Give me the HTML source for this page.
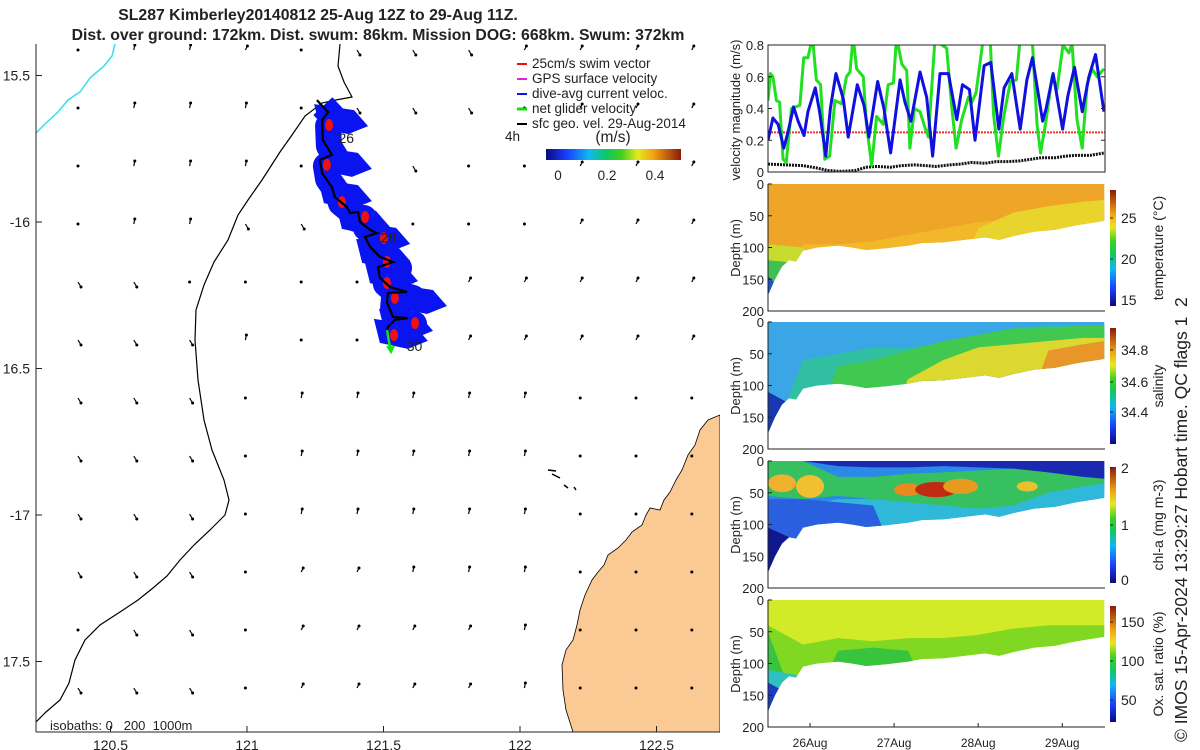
<!DOCTYPE html>
<html><head><meta charset="utf-8"><style>
html,body{margin:0;padding:0;background:#fff;}
svg{display:block;font-family:"Liberation Sans",sans-serif;}
text{fill:#222;}
</style></head><body>
<svg id="s" width="1200" height="750" viewBox="0 0 1200 750" xmlns="http://www.w3.org/2000/svg">
<defs>
<linearGradient id="jetH" x1="0" y1="0" x2="1" y2="0">
<stop offset="0" stop-color="#0a0a80"/><stop offset="0.15" stop-color="#1a3cff"/><stop offset="0.32" stop-color="#10b8f0"/><stop offset="0.45" stop-color="#10c860"/><stop offset="0.56" stop-color="#40d020"/><stop offset="0.68" stop-color="#e8e820"/><stop offset="0.8" stop-color="#f0a010"/><stop offset="1" stop-color="#8b1a0a"/>
</linearGradient>
<linearGradient id="jetV" x1="0" y1="1" x2="0" y2="0">
<stop offset="0" stop-color="#0a0a80"/><stop offset="0.15" stop-color="#1a3cff"/><stop offset="0.32" stop-color="#10b8f0"/><stop offset="0.45" stop-color="#10c860"/><stop offset="0.56" stop-color="#40d020"/><stop offset="0.68" stop-color="#e8e820"/><stop offset="0.8" stop-color="#f0a010"/><stop offset="1" stop-color="#8b1a0a"/>
</linearGradient>
<clipPath id="velClip"><rect x="768" y="45" width="337" height="127"/></clipPath>
<clipPath id="mapClip"><rect x="36" y="44" width="684" height="688"/></clipPath>
</defs>
<g id="map"></g>
<g id="right"></g>
</svg>
<script>
// ===== DATA =====
const velHours = [0,1.4,2.9,4.5,5.7,7.3,8.6,10.3,11.4,13.5,14.8,16.5,17.8,19.4,21.5,22.9,25.5,27.4,28.8,31.3,33.1,35.0,37.7,39.1,40.8,43.4,45.3,47.0,49.1,51.5,53.9,55.5,57.5,59.1,61.7,63.6,65.9,67.4,69.6,72.0,73.9,75.5,78.4,79.4,81.4,84.1,85.6,87.5,89.7,91.6,93.5,95.9];
const diveAvgVel = [0.2,0.34,0.3,0.15,0.25,0.41,0.32,0.23,0.38,0.53,0.37,0.1,0.4,0.62,0.46,0.22,0.55,0.42,0.22,0.57,0.4,0.12,0.58,0.44,0.32,0.63,0.47,0.1,0.62,0.62,0.33,0.55,0.52,0.2,0.67,0.69,0.27,0.53,0.62,0.27,0.58,0.72,0.32,0.4,0.62,0.27,0.48,0.66,0.38,0.6,0.74,0.38];
const netHours = [0,0.7,1.4,2.4,3.3,4.3,5.2,6.7,9.1,10.2,11.4,12.7,13.8,15.0,16.2,17.6,19.1,21.0,22.4,23.4,24.3,25.3,27.2,28.1,29.6,31.0,32.9,34.3,35.8,36.7,38.2,39.6,40.5,41.8,43.4,44.8,45.8,47.7,49.6,51.0,52.5,53.7,55.3,57.2,58.2,59.4,61.5,63.4,64.4,65.8,67.3,69.2,70.9,72.0,73.5,75.4,76.8,77.8,79.2,81.1,82.5,84.2,85.9,86.8,88.2,89.7,91.1,92.5,94.0,95.9];
const netGliderVel = [0.45,0.62,0.6,0.45,0.44,0.08,0.06,0.4,0.42,0.72,0.72,0.85,0.58,0.55,0.08,0.1,0.45,0.43,0.6,0.63,0.85,0.65,0.6,0.3,0.04,0.35,0.3,0.55,0.56,0.85,0.68,0.64,0.15,0.4,0.38,0.28,0.22,0.85,0.8,0.78,0.4,0.15,0.33,0.47,0.44,0.5,0.85,0.85,0.36,0.1,0.35,0.57,0.58,0.85,0.85,0.85,0.3,0.12,0.3,0.6,0.52,0.8,0.75,0.81,0.33,0.15,0.55,0.65,0.6,0.65];
const sfcHours = [0,5,10,14,17,20,22,25,28,31,35,38,42,45,48,52,55,58,62,65,68,72,75,78,82,85,88,92,96];
const sfcGeoVel = [0.05,0.045,0.04,0.025,0.01,0.005,0.005,0.01,0.03,0.035,0.03,0.04,0.045,0.04,0.035,0.045,0.05,0.06,0.055,0.065,0.065,0.07,0.08,0.09,0.09,0.1,0.105,0.105,0.12];
const swimSpeed = 0.25;
const velTicks = [0,0.2,0.4,0.6,0.8];
const dayTicks = ["26Aug","27Aug","28Aug","29Aug"];
const dayTickHours = [12,36,60,84];
const depthTicks = [0,50,100,150,200];
// section profiles
const profHours = [0,2,4,6,8,10,14,20,24,28,34,40,44,50,56,62,66,70,76,82,88,96];
const maxDepth = [175,150,130,120,122,105,100,97,100,104,101,97,93,92,88,84,88,82,75,72,65,58];
const layerHours = [0,10,20,30,40,50,60,70,80,90,96];
const tempLayers = [
 {c:"#eea528", top:[0,0,0,0,0,0,0,0,0,0,0], bot:[200,200,200,200,200,200,200,200,200,200,200]},
 {c:"#f2b82a", top:[200,95,95,90,80,70,60,55,50,45,45], bot:[200,200,200,200,200,200,200,200,200,200,200]},
 {c:"#e8d42c", top:[200,200,200,200,200,200,70,45,35,28,25], bot:[200,200,200,200,200,200,200,200,200,200,200]},
 {c:"#c8dc30", top:[95,100,200,200,200,200,200,200,200,200,200], bot:[200,200,200,200,200,200,200,200,200,200,200]},
 {c:"#40c050", top:[120,125,200,200,200,200,200,200,200,200,200], bot:[200,200,200,200,200,200,200,200,200,200,200]},
 {c:"#1e50d0", top:[145,200,200,200,200,200,200,200,200,200,200], bot:[200,200,200,200,200,200,200,200,200,200,200]}
];
const salLayers = [
 {c:"#3aa6e6", top:[0,0,0,0,0,0,0,0,0,0,0], bot:[200,200,200,200,200,200,200,200,200,200,200]},
 {c:"#30bfa0", top:[200,60,50,40,40,35,25,10,5,5,5], bot:[200,200,200,200,200,200,200,200,200,200,200]},
 {c:"#40c850", top:[200,200,70,60,45,30,20,10,10,5,5], bot:[200,200,200,200,200,200,200,200,200,200,200]},
 {c:"#dcd830", top:[200,200,200,200,90,60,40,35,30,25,25], bot:[200,200,200,200,200,200,200,200,200,200,200]},
 {c:"#e8962a", top:[200,200,200,200,200,200,200,200,45,35,30], bot:[200,200,200,200,200,200,200,200,200,200,200]},
 {c:"#1838b0", top:[110,140,200,200,200,200,200,200,200,200,200], bot:[200,200,200,200,200,200,200,200,200,200,200]}
];
const chlLayers = [
 {c:"#2a8ae6", top:[0,0,0,0,0,0,0,0,0,0,0], bot:[200,200,200,200,200,200,200,200,200,200,200]},
 {c:"#30b8d8", top:[60,70,60,60,55,60,60,55,45,35,35], bot:[200,200,200,200,200,200,200,200,200,200,200]},
 {c:"#2a60e0", top:[60,60,65,70,200,200,200,200,200,200,200], bot:[200,200,200,200,200,200,200,200,200,200,200]},
 {c:"#36c060", top:[0,0,25,25,20,18,15,12,12,15,18], bot:[55,60,55,60,65,70,75,70,50,40,35]},
 {c:"#1a2ab0", top:[0,0,0,0,0,0,0,0,0,0,0], bot:[0,0,8,10,10,8,10,12,18,25,28]},
 {c:"#101890", top:[105,130,200,200,200,200,200,200,200,200,200], bot:[200,200,200,200,200,200,200,200,200,200,200]}
];
// chl-a high patches: centre hour, centre depth, half-width hours, half-height m
const chlPatchHour = [4,12,40,48,55,74];
const chlPatchDepth = [35,40,45,45,40,40];
const chlPatchRx = [4,4,4,6,5,3];
const chlPatchRy = [14,18,10,12,12,8];
const chlPatchColor = ["#f0b030","#f0c030","#e88a20","#c02a10","#e89a20","#e8c030"];
const oxyLayers = [
 {c:"#d2ea28", top:[0,0,0,0,0,0,0,0,0,0,0], bot:[200,200,200,200,200,200,200,200,200,200,200]},
 {c:"#80d822", top:[40,70,60,65,60,60,55,45,40,40,40], bot:[200,200,200,200,200,200,200,200,200,200,200]},
 {c:"#38c43c", top:[50,200,80,75,80,200,200,200,200,200,200], bot:[200,200,200,200,200,200,200,200,200,200,200]},
 {c:"#30c0c0", top:[110,120,200,200,200,200,200,200,200,200,200], bot:[200,200,200,200,200,200,200,200,200,200,200]},
 {c:"#1c3cc0", top:[130,160,200,200,200,200,200,200,200,200,200], bot:[200,200,200,200,200,200,200,200,200,200,200]}
];
// map
const lonTicks = [120.5,121,121.5,122,122.5];
const latTicks = [-15.5,-16,-16.5,-17,-17.5];
const latLabels = ["15.5","-16","16.5","-17","17.5"];
const trackLon = [121.256,121.297,121.275,121.278,121.311,121.267,121.275,121.311,121.322,121.366,121.377,121.407,121.414,121.451,121.476,121.432,121.451,121.487,121.535,121.480,121.487,121.524,121.586,121.516,121.513,121.535,121.590,121.542,121.516,121.513];
const trackLat = [-15.584,-15.625,-15.652,-15.720,-15.771,-15.788,-15.833,-15.881,-15.915,-15.949,-15.969,-15.966,-16.0,-16.027,-16.038,-16.051,-16.085,-16.119,-16.137,-16.154,-16.191,-16.222,-16.239,-16.242,-16.276,-16.324,-16.328,-16.334,-16.358,-16.369];
const dayLabelText = ["26","28","30"];
const dayLabelLon = [121.335,121.49,121.585];
const dayLabelLat = [-15.73,-16.07,-16.44];
// geo velocity arrow grid: codes . dot, N north, A north-east, S south-east, W north-west
const arrowGrid = [
 ".NNA.SSSAAAA",
 ".NNN.SSS.AAA",
 ".NNN..S..AAA",
 ".NNSS....AAA",
 "SS.....AAAAA",
 "SSSN...AAAAA",
 "SSS.NNNNN...",
 "SSS.NNNNN...",
 "SSS.NNNNN...",
 "SSS.AANNN...",
 ".SS.AAAAN...",
 "SSS.AAAAN..."
];

// ===== HELPERS =====
const NS="http://www.w3.org/2000/svg";
const svg=document.getElementById('s');
const mapG=document.getElementById('map');
const rightG=document.getElementById('right');
function mk(tag,attrs,parent){const e=document.createElementNS(NS,tag);for(const k in attrs)e.setAttribute(k,attrs[k]);(parent||svg).appendChild(e);return e;}
function txt(x,y,s,attrs,parent){const e=mk('text',Object.assign({x:x,y:y,'font-size':13},attrs||{}),parent);e.textContent=s;return e;}
const VX0=768,VX1=1105;
function xT(h){return VX0+h/96.2*(VX1-VX0);}
function yV(v){return 172-v/0.8*127;}
function xLon(lon){return 247+(lon-121)*273;}
function yLat(lat){return 222+(-16-lat)*293;}

// ===== TITLE =====
let t=txt(318,20,"SL287 Kimberley20140812 25-Aug 12Z to 29-Aug 11Z.",{'font-weight':'bold','text-anchor':'middle','font-size':15.8});


t=txt(378,40,"Dist. over ground: 172km. Dist. swum: 86km. Mission DOG: 668km. Swum: 372km",{'font-weight':'bold','text-anchor':'middle','font-size':15.8});



// ===== MAP =====
const mc=mk('g',{'clip-path':'url(#mapClip)'},mapG);


let land=mk('path',{d:"M720,415 L708,420 L700,430 L695,445 L688,455 L682,470 L676,480 L670,492 L664,500 L660,510 L650,508 L646,515 L642,525 L632,532 L626,540 L618,548 L608,555 L604,565 L598,572 L592,580 L585,595 L580,610 L577,625 L573,640 L566,650 L562,665 L563,690 L566,710 L573,732 L720,732 Z",fill:'#fbc993',stroke:'#000','stroke-width':0.8},mc);


let isl=mk('path',{d:"M548,470 L556,471 M552,474 L560,478 M564,485 L568,488 M574,487 L576,490",stroke:'#000','stroke-width':1.5,fill:'none'},mc);


let iso=mk('path',{d:"M340,44 L338,66 L344,82 L352,97 L336,100 L322,103 L305,116 L292,135 L280,152 L262,180 L248,200 L238,215 L228,240 L214,262 L204,285 L196,310 L195,340 L198,380 L204,420 L212,450 L224,480 L229,500 L225,515 L210,530 L194,545 L180,560 L167,576 L153,588 L138,600 L120,612 L100,625 L85,640 L75,660 L69,683 L60,700 L46,712 L36,722",fill:'none',stroke:'#000','stroke-width':1.2},mc);


let cy=mk('path',{d:"M115,44 L112,56 L104,66 L90,78 L80,92 L68,100 L58,112 L45,124 L36,133",fill:'none',stroke:'#30e0f0','stroke-width':1.5},mc);


for(let r=0;r<arrowGrid.length;r++){for(let c=0;c<12;c++){
 const code=arrowGrid[r][c];const x=78+c*55.8,y=50+r*58;
 let dx=0,dy=0;
 if(code==='N'){dx=1;dy=-5;} else if(code==='A'){dx=2;dy=-4;} else if(code==='S'){dx=3;dy=5;} else if(code==='W'){dx=-3;dy=-4;}
 const g=mk('g',{},mc);
 
 
 mk('line',{x1:x,y1:y,x2:x+dx,y2:y+dy,stroke:'#000','stroke-width':1.2},g);
 mk('circle',{cx:x+dx,cy:y+dy,r:1.5,fill:'#000'},g);
}}
const tp=trackLon.map((lo,i)=>[xLon(lo),yLat(trackLat[i])]);
const blueG=mk('g',{},mc);


mk('polyline',{points:tp.map(p=>(p[0]+6)+','+(p[1]+6)).join(' '),fill:'none',stroke:'#0a14f0','stroke-width':26,'stroke-linejoin':'round'},blueG);
tp.forEach((p,i)=>{if(i%3===1)mk('polygon',{points:`${p[0]-14},${p[1]-8} ${p[0]+26},${p[1]-2} ${p[0]+40},${p[1]+14} ${p[0]+20},${p[1]+22} ${p[0]-8},${p[1]+16}`,fill:'#0a14f0'},blueG);});
const redG=mk('g',{},mc);


tp.forEach((p,i)=>{if(i%3===2)mk('ellipse',{cx:p[0]+7,cy:p[1]+5,rx:4,ry:6,fill:'#f01010'},redG);});
const trk=mk('polyline',{points:tp.map(p=>p[0]+','+p[1]).join(' '),fill:'none',stroke:'#000','stroke-width':2.2},mc);


const last=tp[tp.length-1];
const ga=mk('g',{},mc);


mk('line',{x1:last[0],y1:last[1],x2:last[0]+3,y2:last[1]+18,stroke:'#10e010','stroke-width':2.5},ga);
mk('polygon',{points:`${last[0]-1},${last[1]+16} ${last[0]+8},${last[1]+16} ${last[0]+4},${last[1]+24}`,fill:'#10e010'},ga);
dayLabelText.forEach((s,i)=>{const e=txt(xLon(dayLabelLon[i]),yLat(dayLabelLat[i]),s,{'font-size':14},mc);
 
 });
let ax=mk('line',{x1:36,y1:44,x2:36,y2:732,stroke:'#222','stroke-width':1},mapG);


ax=mk('line',{x1:36,y1:732,x2:720,y2:732,stroke:'#222','stroke-width':1},mapG);


lonTicks.forEach(l=>{const x=xLon(l);mk('line',{x1:x,y1:732,x2:x,y2:726,stroke:'#222'},mapG);
 const e=txt(x,750,String(l),{'text-anchor':'middle','font-size':14},mapG);
 
 });
latTicks.forEach((l,i)=>{const y=yLat(l);mk('line',{x1:36,y1:y,x2:42,y2:y,stroke:'#222'},mapG);
 const e=txt(30,y+5,latLabels[i],{'text-anchor':'end','font-size':14},mapG);
 
 });
t=txt(50,730,"isobaths: 0\u00a0\u00a0\u00a0200\u00a0\u00a01000m",{'font-size':13},mapG);


const legItems=[["25cm/s swim vector","#f01010"],["GPS surface velocity","#e020e0"],["dive-avg current veloc.","#0a14f0"],["net glider velocity","#10e010"],["sfc geo. vel. 29-Aug-2014","#000"]];
legItems.forEach((it,i)=>{const y=62+i*15;const g=mk('g',{},mapG);
 
 
 mk('line',{x1:517,y1:y+2,x2:527,y2:y+2,stroke:it[1],'stroke-width':i===3?3:2},g);
 txt(532,y+6,it[0],{'font-size':13.5},g);});
t=txt(505,141,"4h",{'font-size':13.5},mapG);


t=txt(613,142,"(m/s)",{'font-size':15.5,'text-anchor':'middle'},mapG);


let cb=mk('rect',{x:546,y:149,width:135,height:11,fill:'url(#jetH)'},mapG);


[[0,558],[0.2,607],[0.4,655]].forEach(p=>{const e=txt(p[1],180,String(p[0]),{'text-anchor':'middle','font-size':13.5},mapG);
 
 });

// ===== VELOCITY PANEL =====
const vg=mk('g',{},rightG);


const vc=mk('g',{'clip-path':'url(#velClip)'},vg);
function line(xsH,vals,color,w,dash,name){const e=mk('polyline',{points:xsH.map((h,i)=>xT(h)+','+yV(vals[i])).join(' '),fill:'none',stroke:color,'stroke-width':w,'stroke-linejoin':'round','stroke-dasharray':dash||'none'},vc);
 
 }
line([0,96.2],[swimSpeed,swimSpeed],'#f03030',2,'2 1','swim-speed-line');
line(sfcHours,sfcGeoVel,'#111',3,'2 1','sfc-geo-velocity-line');
line(netHours,netGliderVel,'#20e020',3,null,'net-glider-velocity-line');
line(velHours,diveAvgVel,'#1010e0',3,null,'dive-avg-velocity-line');
mk('rect',{x:VX0,y:45,width:VX1-VX0,height:127,fill:'none',stroke:'#222'},vg);
velTicks.forEach(v=>{const y=yV(v);mk('line',{x1:VX0,y1:y,x2:VX0+4,y2:y,stroke:'#222'},vg);mk('line',{x1:VX1,y1:y,x2:VX1-4,y2:y,stroke:'#222'},vg);
 const e=txt(764,y+5,String(v),{'text-anchor':'end','font-size':13},vg);
 
 });
t=txt(0,0,"velocity magnitude (m/s)",{'text-anchor':'middle','font-size':13,transform:'translate(740,110) rotate(-90)'},vg);



// ===== SECTIONS =====
function section(top,layers,name,cbTicks,cbLabel,patches){
 const g=mk('g',{},rightG);
 
 
 const yD=d=>top+d/200*127;
 const cid='clip-'+name;
 const cp=mk('clipPath',{id:cid},g);
 const pts=[[xT(0),yD(0)],[xT(96.2),yD(0)]];
 for(let i=profHours.length-1;i>=0;i--)pts.push([xT(profHours[i]),yD(maxDepth[i])]);
 mk('polygon',{points:pts.map(p=>p.join(',')).join(' ')},cp);
 const cg=mk('g',{'clip-path':`url(#${cid})`},g);
 layers.forEach(L=>{const p=[];
  layerHours.forEach((h,i)=>p.push(xT(h)+','+yD(L.top[i])));
  for(let i=layerHours.length-1;i>=0;i--)p.push(xT(layerHours[i])+','+yD(L.bot[i]));
  const e=mk('polygon',{points:p.join(' '),fill:L.c},cg);
  
  });
 if(patches){patches.h.forEach((h,i)=>{
  const e=mk('ellipse',{cx:xT(h),cy:yD(patches.d[i]),rx:patches.rx[i]/96.2*337,ry:patches.ry[i]/200*127,fill:patches.c[i]},cg);
  
  });}
 mk('polyline',{points:`${VX0},${top} ${VX0},${top+127} ${VX1},${top+127}`,fill:'none',stroke:'#222'},g);
 depthTicks.forEach(d=>{const y=yD(d);mk('line',{x1:VX0,y1:y,x2:VX0+4,y2:y,stroke:'#222'},g);
  const e=txt(764,y+5,String(d),{'text-anchor':'end','font-size':13},g);
  
  });
 const e=txt(0,0,"Depth (m)",{'text-anchor':'middle','font-size':13,transform:`translate(740,${top+64}) rotate(-90)`},g);
 
 
 const cbr=mk('rect',{x:1110,y:top+6,width:6,height:116,fill:'url(#jetV)'},g);
 
 
 cbTicks.forEach(tk=>{mk('line',{x1:1110,y1:top+tk[1],x2:1113,y2:top+tk[1],stroke:'#222'},g);
  const e2=txt(1121,top+tk[1]+5,tk[0],{'font-size':14},g);
  
  });
 const lb=txt(0,0,cbLabel,{'text-anchor':'middle','font-size':14,transform:`translate(1163,${top+64}) rotate(-90)`},g);
 
 
}
section(184,tempLayers,'temperature-section',[["25",34],["20",75],["15",116]],"temperature (°C)");
section(322,salLayers,'salinity-section',[["34.8",28],["34.6",60],["34.4",90]],"salinity");
section(461,chlLayers,'chla-section',[["2",7],["1",64],["0",119]],"chl-a (mg m-3)",{h:chlPatchHour,d:chlPatchDepth,rx:chlPatchRx,ry:chlPatchRy,c:chlPatchColor});
section(600,oxyLayers,'oxygen-section',[["150",22],["100",61],["50",100]],"Ox. sat. ratio (%)");
dayTicks.forEach((d,i)=>{const x=xT(dayTickHours[i]);mk('line',{x1:x,y1:727,x2:x,y2:723,stroke:'#222'},rightG);
 const e=txt(x,747,d,{'text-anchor':'middle','font-size':12},rightG);
 
 });
t=txt(0,0,"© IMOS 15-Apr-2024 13:29:27 Hobart time. QC flags 1\u00a0\u00a02",{'font-size':17.5,transform:'translate(1187,742) rotate(-90)'},rightG);


</script>
</body></html>
